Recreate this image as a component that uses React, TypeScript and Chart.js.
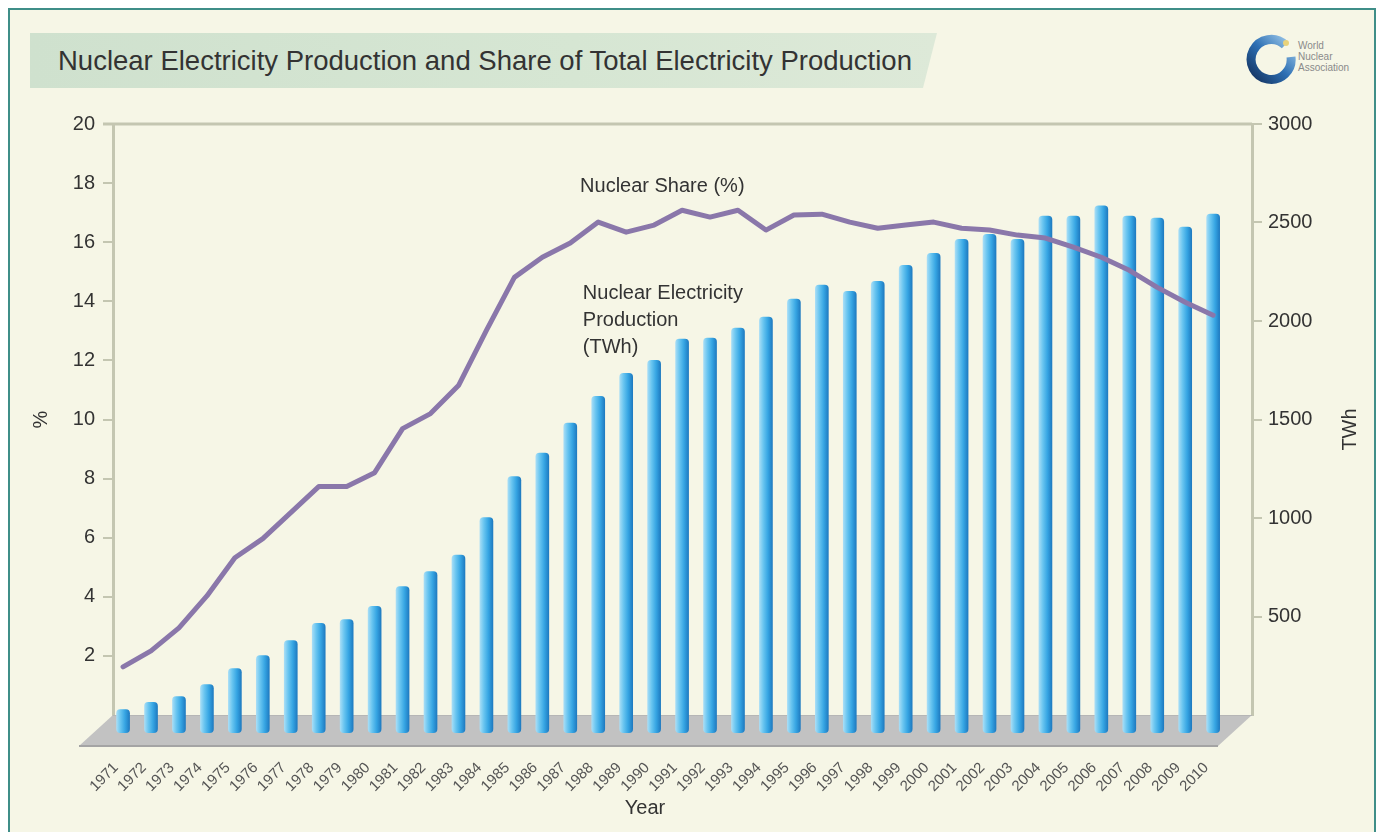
import React, { useEffect, useRef } from 'react';
import { Chart, registerables } from 'chart.js';

Chart.register(...registerables);

const years = [
  1971, 1972, 1973, 1974, 1975, 1976, 1977, 1978, 1979, 1980,
  1981, 1982, 1983, 1984, 1985, 1986, 1987, 1988, 1989, 1990,
  1991, 1992, 1993, 1994, 1995, 1996, 1997, 1998, 1999, 2000,
  2001, 2002, 2003, 2004, 2005, 2006, 2007, 2008, 2009, 2010,
];

const productionTWh = [
  28, 64, 94, 155, 236, 302, 378, 465, 485, 551,
  652, 728, 812, 1002, 1210, 1330, 1482, 1618, 1735, 1800,
  1908, 1913, 1964, 2020, 2111, 2182, 2151, 2202, 2283, 2344,
  2415, 2440, 2415, 2533, 2533, 2584, 2533, 2523, 2477, 2543,
];

const sharePct = [
  1.63, 2.17, 2.95, 4.03, 5.32, 5.97, 6.85, 7.73, 7.73, 8.2,
  9.69, 10.2, 11.15, 13.02, 14.81, 15.49, 15.97, 16.68, 16.34, 16.58,
  17.08, 16.85, 17.08, 16.41, 16.92, 16.95, 16.68, 16.47, 16.58, 16.68,
  16.47, 16.41, 16.24, 16.14, 15.83, 15.49, 15.05, 14.47, 13.97, 13.53,
];

const pctTicks = [2, 4, 6, 8, 10, 12, 14, 16, 18, 20];
const twhTicks = [500, 1000, 1500, 2000, 2500, 3000];

const TITLE = 'Nuclear Electricity Production and Share of Total Electricity Production';
const SHARE_LABEL = 'Nuclear Share (%)';
const PROD_LABEL = ['Nuclear Electricity', 'Production', '(TWh)'];
const X_TITLE = 'Year';
const Y_TITLE = '%';
const Y1_TITLE = 'TWh';

const FONT = '"Liberation Sans", Arial, Helvetica, sans-serif';
const AXIS = '#c4c6b1';
const TEXT = '#333333';
const BAR_FALLBACK = '#3fa9e4';

const barFill = (c: any) => {
  const chart = c.chart;
  const xs = chart && chart.scales && chart.scales.x;
  if (!xs || c.dataIndex === undefined) return BAR_FALLBACK;
  const x = xs.getPixelForValue(years[c.dataIndex]);
  if (!Number.isFinite(x)) return BAR_FALLBACK;
  const g = chart.ctx.createLinearGradient(x - 6.5, 0, x + 6.5, 0);
  g.addColorStop(0, '#a6ddf6');
  g.addColorStop(0.3, '#69c5f0');
  g.addColorStop(0.65, '#36a5e3');
  g.addColorStop(1, '#1f7bc1');
  return g;
};

const decor = {
  id: 'decor',
  beforeDatasetsDraw(chart: any) {
    const { ctx, chartArea: a, scales } = chart;
    const y0 = scales.y1.getPixelForValue(0);
    const dx = -34;
    const dy = 31;
    ctx.save();
    ctx.strokeStyle = AXIS;
    ctx.lineWidth = 3;
    ctx.beginPath();
    ctx.moveTo(a.left - 10, a.top);
    ctx.lineTo(a.right, a.top);
    ctx.stroke();
    ctx.beginPath();
    ctx.moveTo(a.left, y0);
    ctx.lineTo(a.right, y0);
    ctx.lineTo(a.right + dx, y0 + dy);
    ctx.lineTo(a.left + dx, y0 + dy);
    ctx.closePath();
    ctx.fillStyle = '#c2c2c2';
    ctx.fill();
    ctx.strokeStyle = '#b6b6b6';
    ctx.lineWidth = 1;
    ctx.beginPath();
    ctx.moveTo(a.left, y0 + 0.5);
    ctx.lineTo(a.right, y0 + 0.5);
    ctx.stroke();
    ctx.strokeStyle = '#a4a4a4';
    ctx.lineWidth = 2;
    ctx.beginPath();
    ctx.moveTo(a.left + dx, y0 + dy);
    ctx.lineTo(a.right + dx, y0 + dy);
    ctx.stroke();
    ctx.restore();
  },
  afterDraw(chart: any) {
    const { ctx, chartArea: a, scales } = chart;
    ctx.save();
    ctx.fillStyle = TEXT;
    ctx.font = `20px ${FONT}`;
    ctx.textBaseline = 'middle';
    ctx.textAlign = 'left';
    ctx.fillText(SHARE_LABEL, scales.x.getPixelForValue(1987.35), scales.y.getPixelForValue(17.9));
    const px = scales.x.getPixelForValue(1987.45);
    const py = scales.y.getPixelForValue(14.25);
    PROD_LABEL.forEach((t, i) => ctx.fillText(t, px, py + i * 27));
    ctx.textAlign = 'center';
    ctx.fillText(X_TITLE, a.left + 532, 808);
    ctx.save();
    ctx.translate(a.left - 72, (a.top + a.bottom) / 2);
    ctx.rotate(-Math.PI / 2);
    ctx.fillText(Y_TITLE, 0, 0);
    ctx.restore();
    ctx.save();
    ctx.translate(a.right + 98, (a.top + a.bottom) / 2 + 10);
    ctx.rotate(-Math.PI / 2);
    ctx.fillText(Y1_TITLE, 0, 0);
    ctx.restore();
    ctx.restore();
  },
};

export default function App() {
  const ref = useRef<HTMLCanvasElement>(null);

  useEffect(() => {
    if (!ref.current) return;
    const chart = new Chart(ref.current, {
      type: 'bar',
      data: {
        datasets: [
          {
            type: 'line',
            label: SHARE_LABEL,
            data: years.map((y, i) => ({ x: y, y: sharePct[i] })),
            yAxisID: 'y',
            xAxisID: 'x',
            borderColor: '#8a77aa',
            borderWidth: 5,
            pointRadius: 0,
            tension: 0,
            borderJoinStyle: 'round',
            borderCapStyle: 'round',
            order: 0,
            clip: false,
          } as any,
          {
            type: 'bar',
            label: 'Nuclear Electricity Production (TWh)',
            data: years.map((y, i) => ({ x: y, y: productionTWh[i] })),
            yAxisID: 'y1',
            xAxisID: 'x',
            backgroundColor: barFill,
            barThickness: 13,
            base: -90,
            borderRadius: 4,
            borderSkipped: false,
            order: 1,
            clip: false,
          } as any,
        ],
      },
      plugins: [decor],
      options: {
        responsive: false,
        devicePixelRatio: 1,
        animation: false,
        events: [],
        layout: { padding: { top: 124, left: 0, right: 0, bottom: 0 } },
        plugins: { legend: { display: false }, tooltip: { enabled: false }, title: { display: false } },
        scales: {
          x: {
            type: 'linear',
            position: 'bottom',
            offset: false,
            min: 1970.64,
            max: 2011.39,
            afterFit: (s: any) => { s.height = 117; },
            afterBuildTicks: (s: any) => { s.ticks = years.map((v) => ({ value: v })); },
            grid: { display: false },
            border: { display: false },
            ticks: {
              autoSkip: false,
              minRotation: 45,
              maxRotation: 45,
              padding: 36,
              labelOffset: -7,
              color: '#555555',
              font: { family: FONT, size: 15 },
              callback: (v: any) => String(v),
            },
          },
          y: {
            type: 'linear',
            position: 'left',
            min: 0,
            max: 20,
            afterFit: (s: any) => { s.width = 113; },
            afterBuildTicks: (s: any) => { s.ticks = pctTicks.map((v) => ({ value: v })); },
            grid: { drawOnChartArea: false, drawTicks: true, tickLength: 10, color: AXIS, lineWidth: 2 },
            border: { display: true, color: AXIS, width: 3 },
            ticks: { padding: 8, color: TEXT, font: { family: FONT, size: 20 }, callback: (v: any) => String(v) },
          },
          y1: {
            type: 'linear',
            position: 'right',
            min: 0,
            max: 3000,
            afterFit: (s: any) => { s.width = 124; },
            afterBuildTicks: (s: any) => { s.ticks = twhTicks.map((v) => ({ value: v })); },
            grid: { drawOnChartArea: false, drawTicks: true, tickLength: 10, color: AXIS, lineWidth: 2 },
            border: { display: true, color: AXIS, width: 3 },
            ticks: { padding: 6, color: TEXT, font: { family: FONT, size: 20 }, callback: (v: any) => String(v) },
          },
        },
      } as any,
    });
    return () => chart.destroy();
  }, []);

  return (
    <div style={{ position: 'fixed', inset: 0, background: '#ffffff', overflow: 'hidden', fontFamily: FONT }}>
      <div
        style={{
          position: 'absolute', left: 8, top: 8, width: 1364, height: 840,
          border: '2px solid #3f8e88', background: '#f6f6e6',
        }}
      />
      <div
        style={{
          position: 'absolute', left: 30, top: 33, width: 907, height: 55,
          background: 'linear-gradient(90deg, #cfe1ce 0%, #d6e6d3 60%, #dde9d8 100%)',
          clipPath: 'polygon(0 0, 100% 0, calc(100% - 14px) 100%, 0 100%)',
        }}
      >
        <div style={{ position: 'absolute', left: 28, top: 0, lineHeight: '55px', fontSize: 27.5, color: '#333333', whiteSpace: 'nowrap' }}>
          {TITLE}
        </div>
      </div>
      <svg width={130} height={60} style={{ position: 'absolute', left: 1245, top: 32 }}>
        <defs>
          <linearGradient id="wnaRing" x1="0" y1="1" x2="1" y2="0">
            <stop offset="0" stopColor="#14325f" />
            <stop offset="0.5" stopColor="#2d6fb3" />
            <stop offset="1" stopColor="#9cc8ea" />
          </linearGradient>
        </defs>
        <path d="M 40 13 A 20 20 0 1 0 46 25" fill="none" stroke="url(#wnaRing)" strokeWidth={9} />
        <circle cx={41} cy={11} r={3} fill="#e8d27a" />
        <text x={53} y={17} fontSize={10} fill="#8a8a8a" fontFamily={FONT}>World</text>
        <text x={53} y={28} fontSize={10} fill="#8a8a8a" fontFamily={FONT}>Nuclear</text>
        <text x={53} y={39} fontSize={10} fill="#8a8a8a" fontFamily={FONT}>Association</text>
      </svg>
      <canvas ref={ref} width={1376} height={832} style={{ position: 'absolute', left: 0, top: 0 }} />
    </div>
  );
}
